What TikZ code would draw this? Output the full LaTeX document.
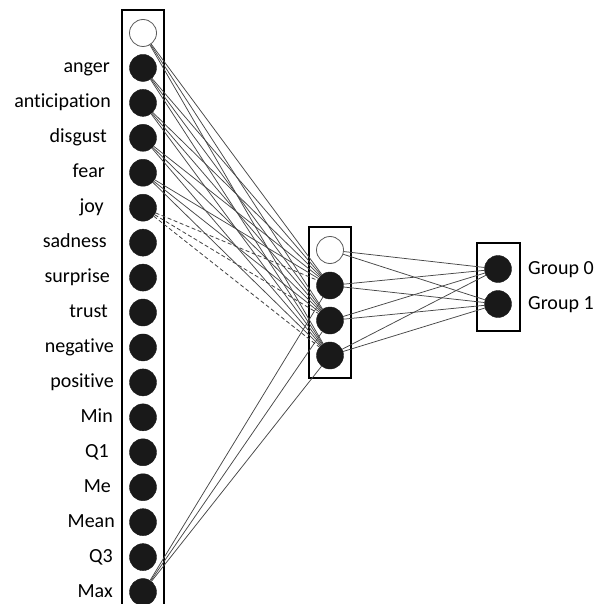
\documentclass[tikz,border=0pt]{standalone}
\usepackage{fontspec}
\setmainfont[Ligatures=CommonOff]{Carlito}
\begin{document}
\begin{tikzpicture}[x=1pt,y=-1pt,
  neuron/.style={circle,fill=black!90,draw=black!90,minimum size=27pt,inner sep=0pt},
  biasn/.style={circle,fill=white,draw=black!65,line width=0.8pt,minimum size=27pt,inner sep=0pt},
  layerbox/.style={draw=black,line width=2.6pt},
  conn/.style={draw=black!72,line width=0.75pt},
  dconn/.style={draw=black!75,line width=0.8pt,dash pattern=on 4pt off 2.5pt},
  lab/.style={font=\fontsize{20}{24}\selectfont,anchor=base east,inner sep=0pt},
  rlab/.style={font=\fontsize{20}{24}\selectfont,anchor=base west,inner sep=0pt}]
\clip (0,0) rectangle (594,604);
% boxes
\draw[layerbox] (122,10) rectangle (164,620);
\draw[layerbox] (309,227) rectangle (351,378);
\draw[layerbox] (477,243) rectangle (520,331);
% input layer
\node[biasn] (i0) at (143,33) {};
\foreach \n/\t/\xe [count=\k] in {1/anger/110,2/anticipation/111,3/disgust/107,4/fear/105,5/joy/104,6/sadness/107,7/surprise/110,8/trust/108,9/negative/114,10/positive/114,11/Min/113,12/Q1/109,13/Me/111,14/Mean/115,15/Q3/113,16/Max/113}{
  \node[neuron] (i\n) at (143,{33+34.94*\n}) {};
  \node[lab] (l\n) at (\xe,{38+34.94*\n}) {\t};
}
% hidden layer
\node[biasn] (h0) at (330,250) {};
\node[neuron] (h1) at (330,285.5) {};
\node[neuron] (h2) at (330,320.5) {};
\node[neuron] (h3) at (330,355.5) {};
% output layer
\node[neuron] (o0) at (498,269) {};
\node[neuron] (o1) at (498,304) {};
\node[rlab] (g0) at (528,274) {Group 0};
\node[rlab] (g1) at (528,309) {Group 1};
% connectors input -> hidden
\foreach \a in {0,1,2,3,4,16}{
  \foreach \b in {1,2,3}{
    \draw[conn] (i\a) -- (h\b);
  }
}
\foreach \b in {1,2,3}{
  \draw[dconn] (i5) -- (h\b);
}
% hidden -> output
\foreach \a in {0,1,2,3}{
  \foreach \b in {0,1}{
    \draw[conn] (h\a) -- (o\b);
  }
}
\end{tikzpicture}
\end{document}
